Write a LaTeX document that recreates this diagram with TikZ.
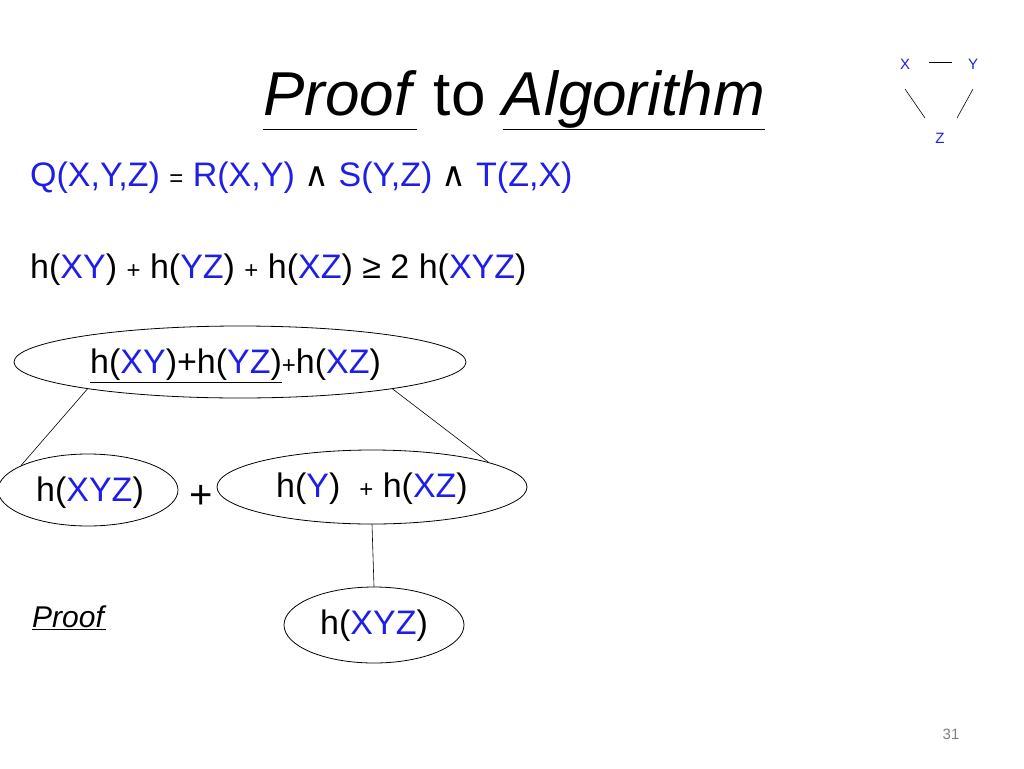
\documentclass[tikz,border=0pt]{standalone}
\usepackage{fontspec}
\setmainfont{Liberation Sans}
\newfontfamily\dv{DejaVu Sans}
\usetikzlibrary{shapes.geometric}
\definecolor{qb}{RGB}{30,30,230}
\newcommand{\bl}[1]{\textcolor{qb}{#1}}
\newcommand{\sm}[1]{{\fontsize{24}{26}\selectfont #1}}
\newcommand{\wg}{{\dv ∧}}
\begin{document}
\begin{tikzpicture}[x=1pt,y=-1pt,
  txt/.style={inner sep=0pt,font=\fontsize{34}{38}\selectfont},
  ell/.style={draw,ellipse,inner sep=0pt,line width=0.8pt},
  ln/.style={line width=0.6pt}]
\useasboundingbox (0,0) rectangle (1024,768);
\node[txt,font=\fontsize{62}{68}\selectfont] (title) at (514,100) {\underline{\vphantom{g}\textit{Proof}} to \underline{\textit{Algorithm}}};
\node[txt,font=\fontsize{15}{17}\selectfont,text=qb] (x) at (905,64) {X};
\node[txt,font=\fontsize{15}{17}\selectfont,text=qb] (y) at (973,64) {Y};
\node[txt,font=\fontsize{15}{17}\selectfont,text=qb] (z) at (940,138) {Z};
\coordinate (a1) at (929,62); \coordinate (a2) at (952,62);
\coordinate (b1) at (905,89); \coordinate (b2) at (925,118);
\coordinate (c1) at (973,89); \coordinate (c2) at (957,118);
\draw[ln] (a1)--(a2); \draw[ln] (b1)--(b2); \draw[ln] (c1)--(c2);
\node[txt,anchor=west] (q) at (30,178) {\bl{Q(X,Y,Z)} \sm{=} \bl{R(X,Y)} \wg{} \bl{S(Y,Z)} \wg{} \bl{T(Z,X)}};
\node[txt,anchor=west] (h) at (30,270) {h(\bl{XY}) \sm{+} h(\bl{YZ}) \sm{+} h(\bl{XZ}) ≥ 2 h(\bl{XYZ})};
\node[ell,minimum width=452,minimum height=72] (e1) at (240,362) {};
\node[txt,anchor=west] (t1) at (90,366) {\underline{h(\bl{XY})+h(\bl{YZ})}\sm{+}h(\bl{XZ})};
\node[ell,minimum width=180,minimum height=72] (e2) at (88,490) {};
\node[txt] (t2) at (90,493) {h(\bl{XYZ})};
\node[txt,font=\fontsize{40}{44}\selectfont] (plus) at (201,497) {+};
\node[ell,minimum width=310,minimum height=74] (e3) at (372,487) {};
\node[txt] (t3) at (372,489) {h(\bl{Y}) \ \sm{+} h(\bl{XZ})};
\node[ell,minimum width=180,minimum height=76] (e4) at (374,625) {};
\node[txt] (t4) at (374,626) {h(\bl{XYZ})};
\node[txt,anchor=west,font=\fontsize{30}{34}\selectfont] (pf) at (32,618) {\underline{\textit{Proof}}};
\node[txt,font=\fontsize{15}{17}\selectfont,text=gray] (pg) at (951,734) {31};
\draw[ln] (e1.190)--(e2.160);
\draw[ln] (e1.350)--(e3.12);
\draw[ln] (e3.south)--(e4.north);
\end{tikzpicture}
\end{document}
